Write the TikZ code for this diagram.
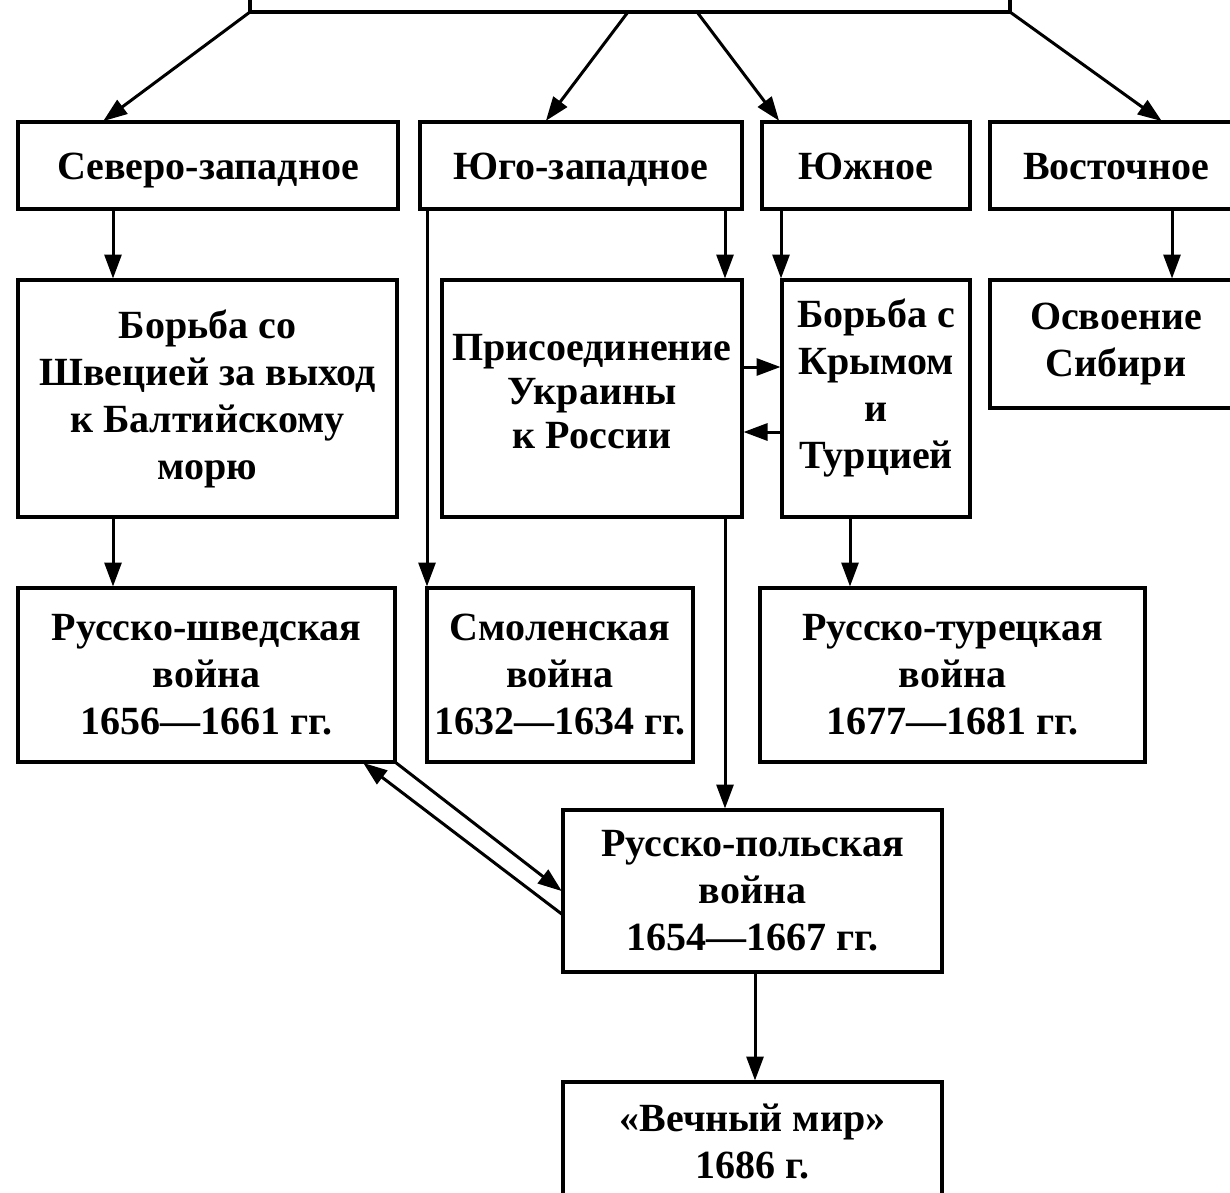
\documentclass[tikz,border=0pt]{standalone}
\usepackage{fontspec}
\setmainfont{Liberation Serif}
\usetikzlibrary{arrows.meta,calc}
\begin{document}
\begin{tikzpicture}[x=1pt,y=-1pt,
  box/.style={draw=black,line width=3.5pt,fill=white,inner sep=0pt,outer sep=0pt,align=center,
    font=\fontsize{40}{47}\selectfont\bfseries},
  onebox/.style={box,text height=28pt,text depth=0pt},
  arr/.style={line width=3pt,shorten >=1.5pt,-{Triangle[length=24pt,width=17pt]}}]
\useasboundingbox (0,0) rectangle (1230,1192);
\clip (0,0) rectangle (1230,1192);
\fill[white] (0,0) rectangle (1230,1192);
% top box
\node[box,minimum width=760pt,minimum height=72pt] (top) at (630,-24) {};
% row 1
\node[onebox,minimum width=380pt,minimum height=87pt] (nw) at (208,165.5) {Северо-западное};
\node[onebox,minimum width=322pt,minimum height=87pt] (sw) at (581,165.5) {Юго-западное};
\node[onebox,minimum width=208pt,minimum height=87pt] (s) at (866,165.5) {Южное};
\node[onebox,minimum width=252pt,minimum height=87pt] (e) at (1116,165.5) {Восточное};
% row 2
\node[box,minimum width=379pt,minimum height=237pt] (swe) at (207.5,398.5) {Борьба со\\Швецией за выход\\к Балтийскому\\морю};
\node[box,minimum width=300pt,minimum height=237pt,text depth=15pt,
  font=\fontsize{40}{44}\selectfont\bfseries] (ukr) at (592,398.5) {Присоединение\\Украины\\к России};
\node[box,minimum width=188pt,minimum height=237pt,text depth=29pt] (crim) at (876,398.5) {Борьба с\\Крымом\\и\\Турцией};
\node[box,minimum width=252pt,minimum height=128pt] (sib) at (1116,344) {Освоение\\Сибири};
% row 3
\node[box,minimum width=377pt,minimum height=174pt] (rsw) at (206.5,675) {Русско-шведская\\война\\1656—1661 гг.};
\node[box,minimum width=266pt,minimum height=174pt] (smol) at (560,675) {Смоленская\\война\\1632—1634 гг.};
\node[box,minimum width=385pt,minimum height=174pt] (rtur) at (952.5,675) {Русско-турецкая\\война\\1677—1681 гг.};
% row 4
\node[box,minimum width=379pt,minimum height=162pt] (rpol) at (752.5,891) {Русско-польская\\война\\1654—1667 гг.};
% row 5
\node[box,minimum width=379pt,minimum height=133pt,text depth=15pt] (peace) at (752.5,1148.5) {«Вечный мир»\\1686 г.};
% arrows from top
\draw[arr] (top.south west) -- ($(nw.north west)+(84,0)$);
\draw[arr] ($(top.south)+(-2,0)$) -- ($(sw.north west)+(125,0)$);
\draw[arr] ($(top.south)+(67,0)$) -- ($(s.north west)+(18,0)$);
\draw[arr] (top.south east) -- ($(e.north west)+(173,0)$);
% vertical arrows
\draw[arr] ($(nw.south west)+(95,0)$) -- ($(swe.north west)+(95,0)$);
\draw[arr] ($(swe.south west)+(95,0)$) -- ($(rsw.north west)+(95,0)$);
\draw[arr] ($(sw.south east)+(-17,0)$) -- ($(ukr.north east)+(-17,0)$);
\draw[arr] ($(sw.south west)+(7,0)$) -- (smol.north west);
\draw[arr] ($(s.south west)+(19,0)$) -- ($(crim.north west)+(-1,0)$);
\draw[arr] ($(e.south west)+(182,0)$) -- ($(sib.north west)+(182,0)$);
\draw[arr] ($(ukr.north east)+(0,87)$) -- ($(crim.north west)+(0,87)$);
\draw[arr] ($(crim.north west)+(0,152)$) -- ($(ukr.north east)+(0,152)$);
\draw[arr] ($(ukr.south east)+(-17,0)$) -- ($(rpol.north west)+(162,0)$);
\draw[arr] ($(crim.south west)+(68,0)$) -- ($(rtur.north west)+(90,0)$);
\draw[arr] (rsw.south east) -- ($(rpol.north west)+(0,82)$);
\draw[arr] ($(rpol.north west)+(0,105)$) -- ($(rsw.south east)+(-33,0)$);
\draw[arr] ($(rpol.south)+(2.5,0)$) -- ($(peace.north)+(2.5,0)$);
\end{tikzpicture}
\end{document}
